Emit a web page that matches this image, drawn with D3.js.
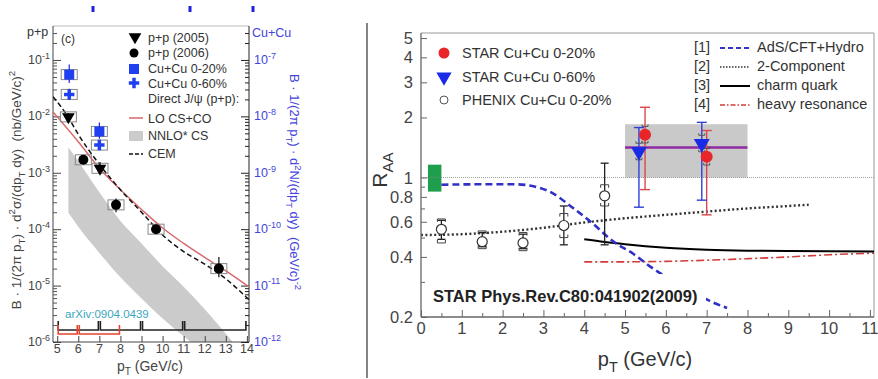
<!DOCTYPE html>
<html>
<head>
<meta charset="utf-8">
<script src="https://cdn.jsdelivr.net/npm/d3@7"></script>
<style>
  body { margin: 0; background: #fff; }
  svg { display: block; }
  text { font-family: "Liberation Sans", Arial, sans-serif; white-space: pre; }
</style>
</head>
<body>
<svg id="chart" width="878" height="379"></svg>
<script>
// ---------- left panel: J/psi spectra ----------
const ptTicksL = [5, 6, 7, 8, 9, 10, 11, 12, 13, 14];
const expLeft = [-1, -2, -3, -4, -5, -6];
const expRight = [-7, -8, -9, -10, -11, -12];

const pp2005Pt = [5.53, 7.03];
const pp2005Val = [9.8e-3, 1.2e-3];
const pp2005Lo = [8.3e-3, 9.5e-4];
const pp2005Hi = [1.15e-2, 1.55e-3];

const pp2006Pt = [6.24, 7.79, 9.69, 12.67];
const pp2006Val = [1.7e-3, 2.7e-4, 1.0e-4, 2.0e-5];
const pp2006Lo = [1.5e-3, 2.0e-4, 8.3e-5, 1.4e-5];
const pp2006Hi = [1.95e-3, 3.5e-4, 1.2e-4, 3.2e-5];

const cu20Pt = [5.57, 7.0];
const cu20Val = [5.5e-8, 5.4e-9];
const cu20Lo = [3.9e-8, 4.0e-9];
const cu20Hi = [8.3e-8, 7.8e-9];

const cu60Pt = [5.57, 7.0];
const cu60Val = [2.45e-8, 3.1e-9];
const cu60Lo = [1.95e-8, 2.5e-9];
const cu60Hi = [3.1e-8, 3.8e-9];

const loPt = [4.8, 6, 7, 8, 9, 10, 11, 12, 13, 14.1];
const loVal = [1.2e-2, 3.55e-3, 1.2e-3, 5.0e-4, 2.24e-4, 1.05e-4, 5.6e-5, 3.16e-5, 1.82e-5, 9.5e-6];

const cemPt = [4.8, 5.5, 6, 7, 8, 9, 10, 11, 12, 13, 14.1];
const cemVal = [2.24e-2, 1.0e-2, 4.8e-3, 1.41e-3, 5.0e-4, 2.0e-4, 7.9e-5, 4.0e-5, 2.4e-5, 1.32e-5, 5.6e-6];

const nnloPt = [5.53, 6, 7, 8, 9, 10, 11, 12, 13, 13.6];
const nnloHi = [2.8e-3, 1.6e-3, 4.5e-4, 1.4e-4, 5.6e-5, 2.2e-5, 9.5e-6, 3.8e-6, 1.4e-6, 7.5e-7];
const nnloLo = [1.95e-4, 1.1e-4, 3.8e-5, 1.4e-5, 5.9e-6, 2.6e-6, 1.26e-6, 6.3e-7, 3.0e-7, 2.0e-7];

const bins2006 = [5, 7, 9, 11, 14];
const bins2005 = [5, 6, 8];

// ---------- right panel: R_AA ----------
const ptTicksR = [0, 1, 2, 3, 4, 5, 6, 7, 8, 9, 10, 11];
const raaTicks = [0.2, 0.4, 0.6, 0.8, 1, 2, 3, 4, 5];
const raaMinor = [0.3, 0.5, 0.7, 0.9];

const star20Pt = [5.49, 7.0];
const star20Val = [1.64, 1.27];
const star20Lo = [0.87, 0.65];
const star20Hi = [2.25, 1.72];

const star60Pt = [5.34, 6.88];
const star60Val = [1.35, 1.48];
const star60Lo = [0.71, 0.77];
const star60Hi = [1.78, 1.89];

const phenixPt = [0.5, 1.5, 2.5, 3.5, 4.5];
const phenixVal = [0.55, 0.477, 0.47, 0.575, 0.81];
const phenixLo = [0.49, 0.45, 0.44, 0.46, 0.46];
const phenixHi = [0.61, 0.53, 0.52, 0.72, 1.18];
const phenixSysLo = [0.47, 0.44, 0.43, 0.5, 0.72];
const phenixSysHi = [0.62, 0.54, 0.53, 0.66, 0.92];

const normBoxPt = [0.17, 0.5];
const normBoxRaa = [0.85, 1.16];
const starBoxPt = [5, 8];
const starBoxRaa = [1.0, 1.85];
const starMeanRaa = 1.415;

const adsPt = [0.5, 1.5, 2.3, 2.8, 3.2, 3.7, 4.2, 4.7, 5.2, 5.6, 6.1, 6.6, 7.0, 7.5];
const adsVal = [0.92, 0.925, 0.925, 0.9, 0.84, 0.71, 0.59, 0.48, 0.415, 0.36, 0.31, 0.275, 0.245, 0.222];
const twoCompPt = [0, 1, 2, 3, 4, 5, 6, 7, 8, 9, 9.5];
const twoCompVal = [0.515, 0.52, 0.535, 0.56, 0.595, 0.625, 0.65, 0.675, 0.7, 0.72, 0.73];
const charmPt = [4, 4.5, 5, 5.5, 6, 7, 8, 9, 10, 11.1];
const charmVal = [0.49, 0.475, 0.463, 0.453, 0.445, 0.435, 0.43, 0.428, 0.427, 0.426];
const heavyPt = [4, 5, 6, 7, 8, 9, 10, 11.1];
const heavyVal = [0.378, 0.378, 0.38, 0.385, 0.392, 0.4, 0.41, 0.418];

const svg = d3.select('#chart');
const defs = svg.append('defs');

// text with sub/superscript parts
function rich(parent, x, y, parts, fs, opts = {}) {
  const t = parent.append('text')
    .attr('x', x).attr('y', y)
    .attr('text-anchor', opts.anchor || 'start')
    .attr('fill', opts.fill || '#333')
    .style('font-size', fs + 'px');
  if (opts.transform) t.attr('transform', opts.transform);
  let cur = 0;
  parts.forEach(([s, k]) => {
    const target = k === 'sup' ? -fs * 0.42 : k === 'sub' ? fs * 0.28 : 0;
    const sp = t.append('tspan').attr('dy', target - cur).text(s);
    if (k) sp.style('font-size', (fs * 0.72) + 'px');
    cur = target;
  });
  return t;
}

// ====================== LEFT PANEL ======================
const xL = d3.scaleLinear().domain([4.8, 14.1]).range([53, 249]);
const yL = d3.scaleLog().domain([1e-6, 0.4]).range([342, 26]);
const yLR = d3.scaleLog().domain([1e-12, 4e-7]).range([342, 26]);
const L = svg.append('g');

defs.append('clipPath').attr('id', 'clipL').append('rect')
  .attr('x', 53).attr('y', 26).attr('width', 196).attr('height', 316);

// NNLO* CS band
const bandData = nnloPt.map((p, i) => ({ p, lo: nnloLo[i], hi: nnloHi[i] }));
L.append('path').datum(bandData)
  .attr('clip-path', 'url(#clipL)')
  .attr('fill', '#cbcbcb')
  .attr('d', d3.area().x(d => xL(d.p)).y0(d => yL(d.lo)).y1(d => yL(d.hi)).curve(d3.curveMonotoneX));

// frame
L.append('line').attr('x1', 53).attr('x2', 249).attr('y1', 26).attr('y2', 26).attr('stroke', '#bbb');
L.append('line').attr('x1', 53).attr('x2', 53).attr('y1', 26).attr('y2', 342).attr('stroke', '#444');
L.append('line').attr('x1', 249).attr('x2', 249).attr('y1', 26).attr('y2', 342).attr('stroke', '#222');
L.append('line').attr('x1', 53).attr('x2', 249).attr('y1', 342).attr('y2', 342).attr('stroke', '#444');

// log ticks
const minorL = [];
for (let e = -6; e <= -1; e++) for (let m = 2; m <= 9; m++) { const v = m * Math.pow(10, e); if (v < 0.4) minorL.push(v); }
L.append('g').attr('transform', 'translate(53,0)')
  .call(d3.axisLeft(yL).tickValues(minorL).tickSize(-4).tickFormat(''))
  .call(g => g.select('.domain').remove()).selectAll('line').attr('stroke', '#555');
L.append('g').attr('transform', 'translate(53,0)')
  .call(d3.axisLeft(yL).tickValues(expLeft.map(e => Math.pow(10, e))).tickSize(-8).tickFormat(''))
  .call(g => g.select('.domain').remove()).selectAll('line').attr('stroke', '#444');
L.append('g').attr('transform', 'translate(249,0)')
  .call(d3.axisRight(yL).tickValues(minorL).tickSize(-4).tickFormat(''))
  .call(g => g.select('.domain').remove()).selectAll('line').attr('stroke', '#222');
L.append('g').attr('transform', 'translate(249,0)')
  .call(d3.axisRight(yL).tickValues(expLeft.map(e => Math.pow(10, e))).tickSize(-8).tickFormat(''))
  .call(g => g.select('.domain').remove()).selectAll('line').attr('stroke', '#222');
L.append('g').attr('transform', 'translate(0,342)')
  .call(d3.axisBottom(xL).tickValues(ptTicksL).tickSize(-6).tickFormat(''))
  .call(g => g.select('.domain').remove()).selectAll('line').attr('stroke', '#444');

expLeft.forEach(e => rich(L, 50, yL(Math.pow(10, e)) + 4, [['10', ''], [String(e), 'sup']], 12.5, { anchor: 'end', fill: '#444' }));
expRight.forEach(e => rich(L, 254, yLR(Math.pow(10, e)) + 4, [['10', ''], [String(e), 'sup']], 12.5, { fill: '#4444dd' }));
ptTicksL.forEach(p => L.append('text').attr('x', xL(p)).attr('y', 353).attr('text-anchor', 'middle')
  .attr('fill', '#444').style('font-size', '12.5px').text(p));

// axis titles
rich(L, 150, 371, [['p', ''], ['T', 'sub'], [' (GeV/c)', '']], 14, { anchor: 'middle', fill: '#444' });
rich(L, 0, 0, [['B · 1/(2π p', ''], ['T', 'sub'], [') · d', ''], ['2', 'sup'], ['σ/(dp', ''], ['T', 'sub'], [' dy)  (nb/GeV/c)', ''], ['2', 'sup']],
  13.5, { anchor: 'middle', fill: '#444', transform: 'translate(21,190) rotate(-90)' });
rich(L, 0, 0, [['B · 1/(2π p', ''], ['T', 'sub'], [') · d', ''], ['2', 'sup'], ['N/(dp', ''], ['T', 'sub'], [' dy)  (GeV/c)', ''], ['-2', 'sup']],
  13, { anchor: 'middle', fill: '#4444dd', transform: 'translate(290,182) rotate(90)' });
L.append('text').attr('x', 27).attr('y', 36).attr('fill', '#333').style('font-size', '12.5px').text('p+p');
L.append('text').attr('x', 252).attr('y', 37).attr('fill', '#4444dd').style('font-size', '12.5px').text('Cu+Cu');
L.append('text').attr('x', 61).attr('y', 43).attr('fill', '#333').style('font-size', '12px').text('(c)');
L.append('text').attr('x', 65).attr('y', 318).attr('fill', '#3aa7bb').style('font-size', '11.5px').text('arXiv:0904.0439');

// bin brackets
function brackets(edges, y, color) {
  for (let i = 0; i < edges.length - 1; i++) {
    const a = xL(edges[i]) + 1, b = xL(edges[i + 1]) - 1;
    L.append('path').attr('d', `M${a},${y - 9}V${y}H${b}V${y - 9}`)
      .attr('fill', 'none').attr('stroke', color).attr('stroke-width', 1.6);
  }
}
brackets(bins2006, 330, '#222');
brackets(bins2005, 334, '#e8432c');

// theory curves
const lineL = d3.line().x(d => xL(d[0])).y(d => yL(d[1])).curve(d3.curveMonotoneX);
L.append('path').datum(loPt.map((p, i) => [p, loVal[i]])).attr('clip-path', 'url(#clipL)')
  .attr('d', lineL).attr('fill', 'none').attr('stroke', '#d9666a').attr('stroke-width', 1.4);
L.append('path').datum(cemPt.map((p, i) => [p, cemVal[i]])).attr('clip-path', 'url(#clipL)')
  .attr('d', lineL).attr('fill', 'none').attr('stroke', '#111').attr('stroke-width', 1.5).attr('stroke-dasharray', '5,3');

// data points
function errL(pt, val, lo, hi, ys, color) {
  pt.forEach((p, i) => {
    const x = xL(p), y = ys(val[i]);
    L.append('rect').attr('x', x - 8).attr('y', y - 5).attr('width', 16).attr('height', 10)
      .attr('fill', 'none').attr('stroke', '#888').attr('stroke-width', 1);
    L.append('line').attr('x1', x).attr('x2', x).attr('y1', ys(hi[i])).attr('y2', ys(lo[i]))
      .attr('stroke', color).attr('stroke-width', 1.2);
  });
}
const triDown = d3.symbol().type(d3.symbolTriangle).size(70);
errL(pp2006Pt, pp2006Val, pp2006Lo, pp2006Hi, yL, '#111');
errL(pp2005Pt, pp2005Val, pp2005Lo, pp2005Hi, yL, '#111');
errL(cu20Pt, cu20Val, cu20Lo, cu20Hi, yLR, '#2222dd');
errL(cu60Pt, cu60Val, cu60Lo, cu60Hi, yLR, '#2222dd');
pp2006Pt.forEach((p, i) => L.append('circle').attr('cx', xL(p)).attr('cy', yL(pp2006Val[i])).attr('r', 5).attr('fill', '#000'));
pp2005Pt.forEach((p, i) => L.append('path').attr('d', triDown)
  .attr('transform', `translate(${xL(p)},${yL(pp2005Val[i])}) rotate(180)`).attr('fill', '#000'));
cu20Pt.forEach((p, i) => L.append('rect').attr('x', xL(p) - 5).attr('y', yLR(cu20Val[i]) - 5)
  .attr('width', 10).attr('height', 10).attr('fill', '#1f3ff0'));
const crossSym = d3.symbol().type(d3.symbolCross).size(60);
cu60Pt.forEach((p, i) => L.append('path').attr('d', crossSym)
  .attr('transform', `translate(${xL(p)},${yLR(cu60Val[i])})`).attr('fill', '#1f3ff0'));

// legend
const lgL = L.append('g').style('font-size', '12.5px').attr('fill', '#333');
lgL.append('path').attr('d', triDown).attr('transform', 'translate(135,37) rotate(180)').attr('fill', '#000');
lgL.append('circle').attr('cx', 134).attr('cy', 53).attr('r', 4.5).attr('fill', '#000');
lgL.append('rect').attr('x', 129).attr('y', 64).attr('width', 10).attr('height', 10).attr('fill', '#1f3ff0');
lgL.append('path').attr('d', crossSym).attr('transform', 'translate(134,83)').attr('fill', '#1f3ff0');
lgL.append('line').attr('x1', 129).attr('x2', 143).attr('y1', 118).attr('y2', 118).attr('stroke', '#d9666a').attr('stroke-width', 1.5);
lgL.append('rect').attr('x', 129).attr('y', 131).attr('width', 14).attr('height', 10).attr('fill', '#cbcbcb');
lgL.append('line').attr('x1', 129).attr('x2', 143).attr('y1', 154).attr('y2', 154).attr('stroke', '#111').attr('stroke-width', 1.5).attr('stroke-dasharray', '4,2');
[['p+p (2005)', 42], ['p+p (2006)', 57], ['Cu+Cu 0-20%', 73], ['Cu+Cu 0-60%', 88],
 ['Direct J/ψ (p+p):', 103], ['LO CS+CO', 123], ['NNLO* CS', 140], ['CEM', 158]]
  .forEach(([t, y]) => lgL.append('text').attr('x', 148).attr('y', y).text(t));

// stray blue marks at the top
[93, 190, 253].forEach(x => L.append('rect').attr('x', x - 1.5).attr('y', 6).attr('width', 3).attr('height', 6).attr('fill', '#2020e0'));

// divider
svg.append('line').attr('x1', 367).attr('x2', 367).attr('y1', 23).attr('y2', 378).attr('stroke', '#333').attr('stroke-width', 1.2);

// ====================== RIGHT PANEL ======================
const xR = d3.scaleLinear().domain([0, 11.1]).range([421, 874]);
const yR = d3.scaleLog().domain([0.2, 5.3]).range([317, 33]);
const R = svg.append('g');

R.append('line').attr('x1', 421).attr('x2', 874).attr('y1', 33).attr('y2', 33).attr('stroke', '#999');
R.append('line').attr('x1', 874).attr('x2', 874).attr('y1', 33).attr('y2', 317).attr('stroke', '#999');

// boxes
R.append('rect').attr('x', xR(starBoxPt[0])).attr('y', yR(starBoxRaa[1]))
  .attr('width', xR(starBoxPt[1]) - xR(starBoxPt[0])).attr('height', yR(starBoxRaa[0]) - yR(starBoxRaa[1]))
  .attr('fill', '#c9c9c9');
R.append('rect').attr('x', xR(normBoxPt[0])).attr('y', yR(normBoxRaa[1]))
  .attr('width', xR(normBoxPt[1]) - xR(normBoxPt[0])).attr('height', yR(normBoxRaa[0]) - yR(normBoxRaa[1]))
  .attr('fill', '#1f9e4e');
R.append('line').attr('x1', 421).attr('x2', 874).attr('y1', yR(1)).attr('y2', yR(1))
  .attr('stroke', '#888').attr('stroke-width', 0.8).attr('stroke-dasharray', '1,1');
R.append('line').attr('x1', xR(starBoxPt[0])).attr('x2', xR(starBoxPt[1])).attr('y1', yR(starMeanRaa)).attr('y2', yR(starMeanRaa))
  .attr('stroke', '#8e2aa0').attr('stroke-width', 2.5);

// model curves
const lineR = d3.line().x(d => xR(d[0])).y(d => yR(d[1])).curve(d3.curveMonotoneX);
R.append('path').datum(twoCompPt.map((p, i) => [p, twoCompVal[i]])).attr('d', lineR)
  .attr('fill', 'none').attr('stroke', '#333').attr('stroke-width', 2.4).attr('stroke-dasharray', '2,2.4');
R.append('path').datum(heavyPt.map((p, i) => [p, heavyVal[i]])).attr('d', lineR)
  .attr('fill', 'none').attr('stroke', '#d43a3a').attr('stroke-width', 1.6).attr('stroke-dasharray', '8,3,2,3');
R.append('path').datum(charmPt.map((p, i) => [p, charmVal[i]])).attr('d', lineR)
  .attr('fill', 'none').attr('stroke', '#000').attr('stroke-width', 2);
R.append('path').datum(adsPt.map((p, i) => [p, adsVal[i]])).attr('d', lineR)
  .attr('fill', 'none').attr('stroke', '#3030c8').attr('stroke-width', 2.6).attr('stroke-dasharray', '7,4');

// reference note with white background
const note = R.append('text').attr('x', 433).attr('y', 302).attr('fill', '#222')
  .style('font-size', '16.5px').style('font-weight', 'bold').text('STAR Phys.Rev.C80:041902(2009)');
R.insert('rect', () => note.node()).attr('x', 428).attr('y', 274).attr('width', 278).attr('height', 35).attr('fill', '#fff');

// axes
R.append('g').attr('transform', 'translate(421,0)')
  .call(d3.axisLeft(yR).tickValues(raaMinor).tickSize(-4).tickFormat(''))
  .call(g => g.select('.domain').remove()).selectAll('line').attr('stroke', '#666');
R.append('g').attr('transform', 'translate(421,0)')
  .call(d3.axisLeft(yR).tickValues(raaTicks).tickSize(-6).tickFormat(''))
  .call(g => g.select('.domain').remove()).selectAll('line').attr('stroke', '#666');
R.append('g').attr('transform', 'translate(0,317)')
  .call(d3.axisBottom(xR).tickValues(d3.range(0.5, 11, 1)).tickSize(-4).tickFormat(''))
  .call(g => g.select('.domain').remove()).selectAll('line').attr('stroke', '#666');
R.append('g').attr('transform', 'translate(0,317)')
  .call(d3.axisBottom(xR).tickValues(ptTicksR).tickSize(-7).tickFormat(''))
  .call(g => g.select('.domain').remove()).selectAll('line').attr('stroke', '#666');
R.append('line').attr('x1', 421).attr('x2', 421).attr('y1', 33).attr('y2', 317).attr('stroke', '#666').attr('stroke-width', 1.3);
R.append('line').attr('x1', 421).attr('x2', 874).attr('y1', 317).attr('y2', 317).attr('stroke', '#666').attr('stroke-width', 1.3);

raaTicks.forEach(v => R.append('text').attr('x', 413).attr('y', yR(v) + 6).attr('text-anchor', 'end')
  .attr('fill', '#444').style('font-size', '16.5px').text(v));
ptTicksR.forEach(p => R.append('text').attr('x', xR(p)).attr('y', 334).attr('text-anchor', 'middle')
  .attr('fill', '#444').style('font-size', '16.5px').text(p));
rich(R, 645, 366, [['p', ''], ['T', 'sub'], [' (GeV/c)', '']], 20, { anchor: 'middle', fill: '#333' });
rich(R, 0, 0, [['R', ''], ['AA', 'sub']], 21, { anchor: 'middle', fill: '#333', transform: 'translate(387,170) rotate(-90)' });

// PHENIX points
phenixPt.forEach((p, i) => {
  const x = xR(p);
  R.append('line').attr('x1', x).attr('x2', x).attr('y1', yR(phenixHi[i])).attr('y2', yR(phenixLo[i])).attr('stroke', '#222').attr('stroke-width', 1.3);
  [phenixHi[i], phenixLo[i]].forEach(v => R.append('line').attr('x1', x - 4).attr('x2', x + 4).attr('y1', yR(v)).attr('y2', yR(v)).attr('stroke', '#222').attr('stroke-width', 1.3));
  const yh = yR(phenixSysHi[i]), yl = yR(phenixSysLo[i]);
  R.append('path').attr('d', `M${x - 4},${yh + 3}V${yh}H${x + 4}V${yh + 3}`).attr('fill', 'none').attr('stroke', '#444');
  R.append('path').attr('d', `M${x - 4},${yl - 3}V${yl}H${x + 4}V${yl - 3}`).attr('fill', 'none').attr('stroke', '#444');
  R.append('circle').attr('cx', x).attr('cy', yR(phenixVal[i])).attr('r', 5).attr('fill', '#fff').attr('stroke', '#333').attr('stroke-width', 1.2);
});

// STAR points
function starErr(pt, val, lo, hi, color) {
  pt.forEach((p, i) => {
    const x = xR(p);
    R.append('line').attr('x1', x).attr('x2', x).attr('y1', yR(hi[i])).attr('y2', yR(lo[i])).attr('stroke', color).attr('stroke-width', 1.4);
    [hi[i], lo[i]].forEach(v => R.append('line').attr('x1', x - 5).attr('x2', x + 5).attr('y1', yR(v)).attr('y2', yR(v)).attr('stroke', color).attr('stroke-width', 1.4));
    [val[i] * 1.1, val[i] / 1.1].forEach(v => R.append('path')
      .attr('d', `M${x - 3},${yR(v) - 2}V${yR(v)}H${x + 3}V${yR(v) - 2}`).attr('fill', 'none').attr('stroke', '#555'));
  });
}
starErr(star20Pt, star20Val, star20Lo, star20Hi, '#d9474a');
starErr(star60Pt, star60Val, star60Lo, star60Hi, '#2f3fd8');
star60Pt.forEach((p, i) => R.append('path').attr('d', d3.symbol().type(d3.symbolTriangle).size(110))
  .attr('transform', `translate(${xR(p)},${yR(star60Val[i])}) rotate(180)`).attr('fill', '#1a2be8'));
star20Pt.forEach((p, i) => R.append('circle').attr('cx', xR(p)).attr('cy', yR(star20Val[i])).attr('r', 6).attr('fill', '#e8262a'));

// legends
const lgR = R.append('g').style('font-size', '14.5px').attr('fill', '#333');
lgR.append('circle').attr('cx', 444).attr('cy', 53).attr('r', 5.5).attr('fill', '#e8262a');
lgR.append('path').attr('d', d3.symbol().type(d3.symbolTriangle).size(100)).attr('transform', 'translate(444,77) rotate(180)').attr('fill', '#1a2be8');
lgR.append('circle').attr('cx', 444).attr('cy', 100).attr('r', 4).attr('fill', 'none').attr('stroke', '#555');
[['STAR Cu+Cu 0-20%', 58], ['STAR Cu+Cu 0-60%', 82], ['PHENIX Cu+Cu 0-20%', 105]]
  .forEach(([t, y]) => lgR.append('text').attr('x', 462).attr('y', y).text(t));

const modelLegend = [
  ['[1]', 'AdS/CFT+Hydro', { stroke: '#3030c8', w: 2, dash: '5,3' }],
  ['[2]', '2-Component', { stroke: '#333', w: 1.5, dash: '1.5,1.5' }],
  ['[3]', 'charm quark', { stroke: '#000', w: 2, dash: null }],
  ['[4]', 'heavy resonance', { stroke: '#d43a3a', w: 1.4, dash: '5,2,1.5,2' }]
];
modelLegend.forEach(([k, t, s], i) => {
  const y = 47 + i * 19;
  lgR.append('text').attr('x', 694).attr('y', y + 5).text(k);
  lgR.append('line').attr('x1', 720).attr('x2', 750).attr('y1', y + 1).attr('y2', y + 1)
    .attr('stroke', s.stroke).attr('stroke-width', s.w).attr('stroke-dasharray', s.dash);
  lgR.append('text').attr('x', 757).attr('y', y + 5).text(t);
});
</script>
</body>
</html>
